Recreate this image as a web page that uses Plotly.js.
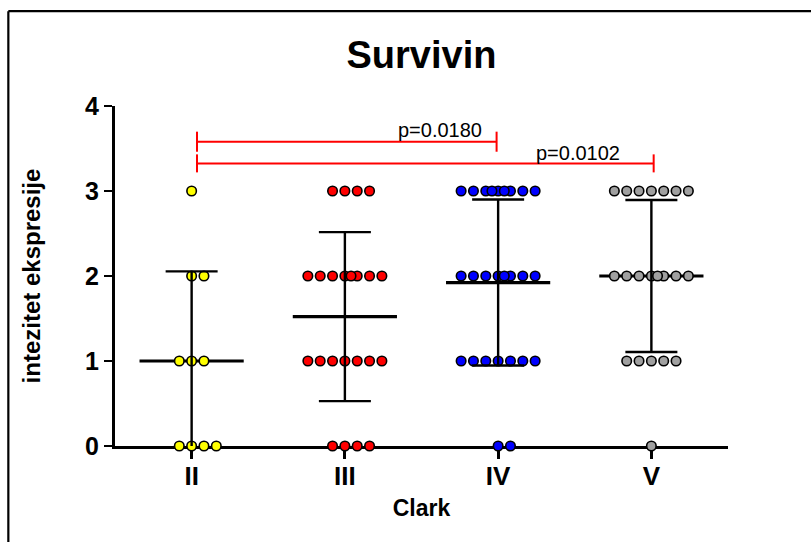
<!DOCTYPE html>
<html>
<head>
<meta charset="utf-8">
<script src="https://cdn.plot.ly/plotly-3.0.1.min.js"></script>
<style>
  html, body { margin: 0; padding: 0; background: #ffffff; }
  #chart { width: 811px; height: 542px; }
</style>
</head>
<body>
<div id="chart"></div>
<script>
// ---------------- data ----------------
const categories = ['II', 'III', 'IV', 'V'];
const scoresII  = [3, 2, 2, 1, 1, 1, 0, 0, 0, 0];
const scoresIII = [3, 3, 3, 3, 2, 2, 2, 2, 2, 2, 2, 2, 1, 1, 1, 1, 1, 1, 1, 0, 0, 0, 0];
const scoresIV  = [3, 3, 3, 3, 3, 3, 3, 3, 3, 2, 2, 2, 2, 2, 2, 2, 2, 1, 1, 1, 1, 1, 1, 1, 0, 0];
const scoresV   = [3, 3, 3, 3, 3, 3, 3, 2, 2, 2, 2, 2, 2, 2, 2, 1, 1, 1, 1, 1, 0];
const comparisonPairs = [[0, 2], [0, 3]];
const pValueLabels = ['p=0.0180', 'p=0.0102'];
const chartTitle = 'Survivin';
const xTitle = 'Clark';
const yTitle = 'intezitet ekspresije';

// ---------------- styles ----------------
const groups = [scoresII, scoresIII, scoresIV, scoresV];
const dotColors = ['#ffff00', '#ff0000', '#0000ff', '#a0a0a0'];
const FONT = '"Liberation Sans", Arial, Helvetica, sans-serif';
const dotStep = 0.0805;      // horizontal spacing between stacked dots (x units)
const meanHalf = 0.34;       // half width of the mean line (x units)
const capPx = 26;            // half width of SD caps (px)

function mean(a) { return a.reduce((s, v) => s + v, 0) / a.length; }
function sd(a) { const m = mean(a); return Math.sqrt(a.reduce((s, v) => s + (v - m) * (v - m), 0) / (a.length - 1)); }

// column layout for n identical values (scatter-dot style)
function colOffsets(n) {
  if (n <= 7) { const s = Math.floor((n - 1) / 2); return Array.from({length: n}, (_, i) => i - s); }
  const base = [-3, -2, -1, 0, 1, 2, 3];
  return n === 8 ? base.concat([0.5]) : base.concat([-0.5, 0.5]).slice(0, n);
}

const traces = [];

// mean lines
const mx = [], my = [];
groups.forEach((g, i) => { const m = mean(g); mx.push(i - meanHalf, i + meanHalf, null); my.push(m, m, null); });
traces.push({ type: 'scatter', mode: 'lines', x: mx, y: my, line: {color: '#000', width: 3.2}, hoverinfo: 'skip', cliponaxis: false });

// dots
groups.forEach((g, i) => {
  const xs = [], ys = [];
  const levels = [...new Set(g)];
  levels.forEach(lv => {
    const n = g.filter(v => v === lv).length;
    colOffsets(n).forEach(o => { xs.push(i + o * dotStep); ys.push(lv); });
  });
  traces.push({
    type: 'scatter', mode: 'markers', x: xs, y: ys, cliponaxis: false,
    marker: {size: 9.5, color: dotColors[i], line: {color: '#000', width: 1.6}},
    hoverinfo: 'y'
  });
});

// SD error bars
traces.push({
  type: 'scatter', mode: 'markers',
  x: groups.map((g, i) => i), y: groups.map(mean),
  marker: {size: 1, color: 'rgba(0,0,0,0)'},
  error_y: {type: 'data', array: groups.map(sd), symmetric: true, color: '#000', thickness: 2.4, width: capPx},
  hoverinfo: 'skip'
});

// significance brackets
const bracketY = [3.58, 3.325];
const capH = [0.118, 0.106];
const bx = [], by = [];
comparisonPairs.forEach((p, k) => {
  const a = p[0] + 0.035, b = p[1] + (k === 0 ? -0.01 : 0.015), y = bracketY[k], h = capH[k];
  bx.push(a, b, null, a, a, null, b, b, null);
  by.push(y, y, null, y - h, y + h, null, y - h, y + h, null);
});
traces.push({ type: 'scatter', mode: 'lines', x: bx, y: by, line: {color: '#ff0000', width: 2}, hoverinfo: 'skip', cliponaxis: false });

const labelPos = [[1.618, 3.72], [2.52, 3.45]];
const annotations = pValueLabels.map((t, k) => ({
  text: t, x: labelPos[k][0], y: labelPos[k][1], xref: 'x', yref: 'y',
  showarrow: false, xanchor: 'center', yanchor: 'middle',
  font: {family: FONT, size: 20, color: '#000'}
}));

const layout = {
  width: 811, height: 542,
  margin: {l: 115, r: 83, t: 106, b: 96, autoexpand: false},
  paper_bgcolor: '#fff', plot_bgcolor: '#fff',
  showlegend: false,
  title: {
    text: chartTitle, x: 0.5, xref: 'paper', xanchor: 'center',
    y: 1 - 55 / 542, yref: 'container', yanchor: 'middle',
    font: {family: FONT, size: 38, color: '#000', weight: 'bold'}
  },
  xaxis: {
    range: [-0.5, 3.5], tickvals: [0, 1, 2, 3], ticktext: categories,
    showline: true, linecolor: '#000', linewidth: 3, mirror: false,
    ticks: 'outside', ticklen: 10, tickwidth: 3, tickcolor: '#000',
    ticklabelstandoff: -5,
    showgrid: false, zeroline: false, layer: 'below traces',
    tickfont: {family: FONT, size: 26, color: '#000', weight: 'bold'},
    title: {text: xTitle, standoff: 10, font: {family: FONT, size: 23, color: '#000', weight: 'bold'}},
    automargin: false, fixedrange: true
  },
  yaxis: {
    range: [0, 4], tickvals: [0, 1, 2, 3, 4],
    showline: true, linecolor: '#000', linewidth: 3,
    ticks: 'outside', ticklen: 8, tickwidth: 2.5, tickcolor: '#000',
    ticklabelstandoff: 0,
    showgrid: false, zeroline: false, layer: 'below traces',
    tickfont: {family: FONT, size: 25, color: '#000', weight: 'bold'},
    title: {text: yTitle, standoff: 38, font: {family: FONT, size: 24, color: '#000', weight: 'bold'}},
    automargin: false, fixedrange: true
  },
  annotations: annotations,
  shapes: [
    {type: 'line', xref: 'paper', yref: 'paper', x0: -0.174, x1: 1.2, y0: 1.279, y1: 1.279, line: {color: '#000', width: 2.2}},
    {type: 'line', xref: 'paper', yref: 'paper', x0: -0.174, x1: -0.174, y0: 1.279, y1: -0.35, line: {color: '#000', width: 2.2}}
  ]
};

Plotly.newPlot('chart', traces, layout, {staticPlot: true, displayModeBar: false});
</script>
</body>
</html>
